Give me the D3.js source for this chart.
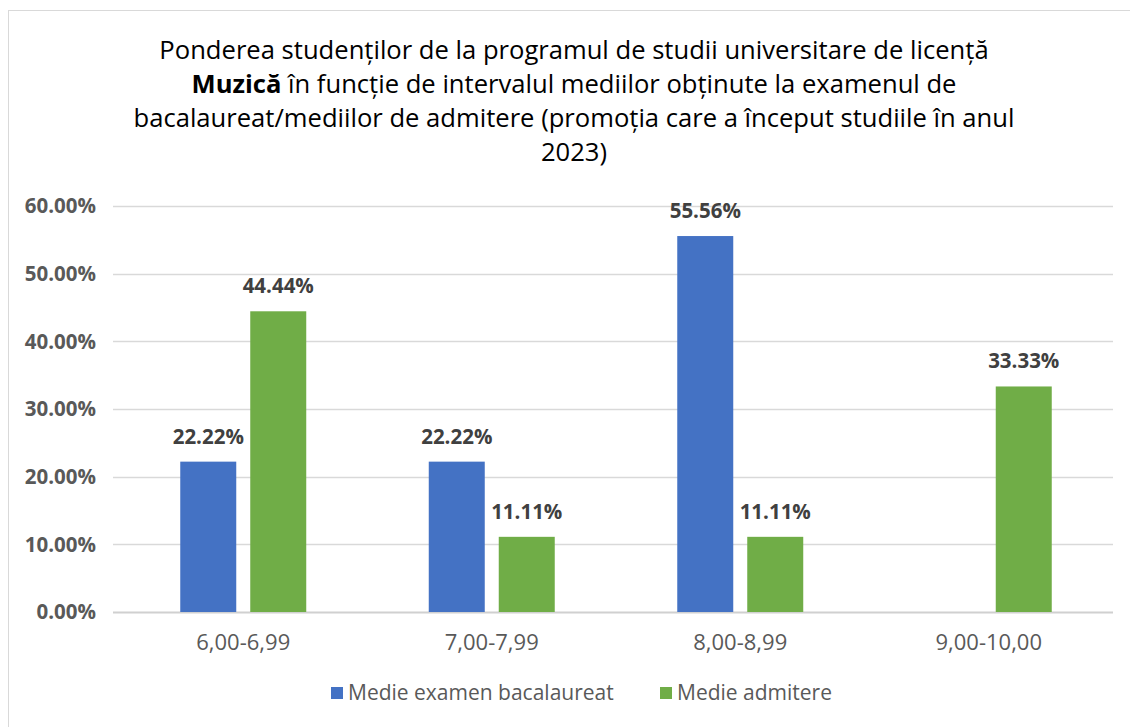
<!DOCTYPE html>
<html>
<head>
<meta charset="utf-8">
<script src="https://cdn.jsdelivr.net/npm/d3@7"></script>
<style>
  body { margin: 0; background: #fff; }
  svg { display: block; font-family: "Open Sans", sans-serif; }
</style>
</head>
<body>
<svg id="chart"></svg>
<script>
// Chart data
const categories = ["6,00-6,99", "7,00-7,99", "8,00-8,99", "9,00-10,00"];
const seriesNames = ["Medie examen bacalaureat", "Medie admitere"];
const bacValues = [22.22, 22.22, 55.56, null];
const admValues = [44.44, 11.11, 11.11, 33.33];
const yTicks = [0, 10, 20, 30, 40, 50, 60];
const titleLines = [
    [{ t: "Ponderea studenților de la programul de studii universitare de licență", b: false }],
    [{ t: "Muzică", b: true }, { t: " în funcție de intervalul mediilor obținute la examenul de", b: false }],
    [{ t: "bacalaureat/mediilor de admitere (promoția care a început studiile în anul", b: false }],
    [{ t: "2023)", b: false }]
];

const width = 1130, height = 727;
const colors = ["#4472C4", "#70AD47"];
const margin = { left: 119, right: 17, top: 206, bottom: 115 };

const svg = d3.select("#chart")
    .attr("width", width)
    .attr("height", height);

// chart frame
svg.append("rect")
    .attr("x", 8.5).attr("y", 10.5)
    .attr("width", width + 10).attr("height", height)
    .attr("fill", "#fff")
    .attr("stroke", "#d9d9d9");

// Title
const title = svg.append("text")
    .attr("text-anchor", "middle")
    .attr("fill", "#000")
    .style("font-size", "25.6px");
titleLines.forEach((line, i) => {
    const tl = title.append("tspan").attr("x", 574).attr("y", 59 + i * 34);
    line.forEach(part => {
        tl.append("tspan").attr("font-weight", part.b ? "bold" : "normal").text(part.t);
    });
});

// Scales
const x0 = d3.scaleBand()
    .domain(categories)
    .range([margin.left, width - margin.right])
    .paddingInner(0.493)
    .paddingOuter(0.2465);

const x1 = d3.scaleBand()
    .domain([0, 1])
    .range([0, x0.bandwidth()])
    .paddingInner(0.2);

const y = d3.scaleLinear()
    .domain([0, 60])
    .range([height - margin.bottom, margin.top]);

// Gridlines
svg.append("g")
    .selectAll("line")
    .data(yTicks)
    .join("line")
    .attr("x1", margin.left - 6)
    .attr("x2", width - margin.right)
    .attr("y1", d => Math.round(y(d)) + 0.5)
    .attr("y2", d => Math.round(y(d)) + 0.5)
    .attr("stroke", d => d === 0 ? "#d0d0d0" : "#d9d9d9")
    .attr("stroke-width", d => d === 0 ? 2 : 1.5);

// Y axis labels
svg.append("g")
    .selectAll("text")
    .data(yTicks)
    .join("text")
    .attr("x", 96)
    .attr("y", d => y(d))
    .attr("dy", "0.35em")
    .attr("text-anchor", "end")
    .attr("font-weight", "bold")
    .attr("fill", "#595959")
    .style("font-size", "20.5px")
    .text(d => d3.format(".2f")(d) + "%");

// Bars
const rows = categories.map((c, i) => ({ cat: c, vals: [bacValues[i], admValues[i]] }));
const groups = svg.append("g")
    .selectAll("g")
    .data(rows)
    .join("g")
    .attr("transform", d => `translate(${x0(d.cat)},0)`);

groups.selectAll("rect")
    .data(d => d.vals.map((v, k) => ({ v, k })).filter(e => e.v !== null))
    .join("rect")
    .attr("x", d => x1(d.k))
    .attr("width", x1.bandwidth())
    .attr("y", d => y(d.v))
    .attr("height", d => y(0) - y(d.v))
    .attr("fill", d => colors[d.k]);

// Data labels
groups.selectAll("text")
    .data(d => d.vals.map((v, k) => ({ v, k })).filter(e => e.v !== null))
    .join("text")
    .attr("x", d => x1(d.k) + x1.bandwidth() / 2)
    .attr("y", d => y(d.v) - 18)
    .attr("text-anchor", "middle")
    .attr("font-weight", "bold")
    .attr("fill", "#404040")
    .style("font-size", "20.5px")
    .text(d => d3.format(".2f")(d.v) + "%");

// Category labels
svg.append("g")
    .selectAll("text")
    .data(categories)
    .join("text")
    .attr("x", d => x0(d) + x0.bandwidth() / 2)
    .attr("y", 650)
    .attr("text-anchor", "middle")
    .attr("fill", "#595959")
    .style("font-size", "22px")
    .text(d => d);

// Legend
const legendX = [331, 660];
const legend = svg.append("g")
    .selectAll("g")
    .data(seriesNames)
    .join("g")
    .attr("transform", (d, i) => `translate(${legendX[i]},687)`);

legend.append("rect")
    .attr("width", 12).attr("height", 12)
    .attr("fill", (d, i) => colors[i]);

legend.append("text")
    .attr("x", 17).attr("y", 6)
    .attr("dy", "0.35em")
    .attr("fill", "#595959")
    .style("font-size", "21px")
    .text(d => d);
</script>
</body>
</html>
